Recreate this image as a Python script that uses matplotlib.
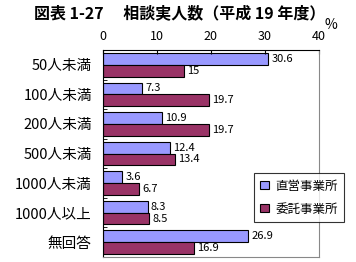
import matplotlib
matplotlib.use("Agg")
import matplotlib.pyplot as plt
import numpy as np

plt.rcParams['font.family'] = ['Noto Sans CJK JP', 'DejaVu Sans']

categories = ["50人未満", "100人未満", "200人未満", "500人未満", "1000人未満", "1000人以上", "無回答"]
direct = [30.6, 7.3, 10.9, 12.4, 3.6, 8.3, 26.9]
consigned = [15, 19.7, 19.7, 13.4, 6.7, 8.5, 16.9]
direct_labels = ["30.6", "7.3", "10.9", "12.4", "3.6", "8.3", "26.9"]
consigned_labels = ["15", "19.7", "19.7", "13.4", "6.7", "8.5", "16.9"]
series_names = ["直営事業所", "委託事業所"]
xticks = [0, 10, 20, 30, 40]

fig = plt.figure(figsize=(3.56, 2.62), dpi=100)
ax = fig.add_axes([0.289, 0.019, 0.607, 0.790])

y = np.arange(len(categories))
h = 0.4
ax.barh(y - h/2, direct, height=h, color="#9999FF", edgecolor="black", linewidth=0.8, label=series_names[0])
ax.barh(y + h/2, consigned, height=h, color="#993366", edgecolor="black", linewidth=0.8, label=series_names[1])

for yi, v, s in zip(y, direct, direct_labels):
    ax.text(v + 0.6, yi - h/2, s, va="center", ha="left", fontsize=8)
for yi, v, s in zip(y, consigned, consigned_labels):
    ax.text(v + 0.6, yi + h/2, s, va="center", ha="left", fontsize=8)

ax.set_xlim(0, 40)
ax.set_ylim(len(categories) - 0.5, -0.5)
ax.set_xticks(xticks)
ax.xaxis.tick_top()
ax.tick_params(axis="x", direction="in", length=3, labelsize=9, pad=5)
ax.set_yticks(y)
ax.set_yticklabels(categories, fontsize=10.5)
ax.tick_params(axis="y", length=0, pad=8)
ax.set_yticks(np.arange(len(categories) + 1) - 0.5, minor=True)
ax.tick_params(axis="y", which="minor", direction="in", length=3)

for side in ["top", "left"]:
    ax.spines[side].set_color("black")
for side in ["right", "bottom"]:
    ax.spines[side].set_color("#888888")

leg = ax.legend(loc="upper left", bbox_to_anchor=(0.67, 0.435), fontsize=9,
                frameon=True, fancybox=False, edgecolor="black",
                handlelength=0.7, handleheight=0.7, borderpad=0.5, labelspacing=0.8,
                handletextpad=0.5)
leg.get_frame().set_linewidth(0.8)

fig.text(0.505, 0.95, "図表 1-27　 相談実人数（平成 19 年度）", ha="center", va="center",
         fontsize=11.5, fontweight="bold")
fig.text(0.93, 0.905, "%", ha="center", va="center", fontsize=10)

fig.savefig("out.png", dpi=100)
